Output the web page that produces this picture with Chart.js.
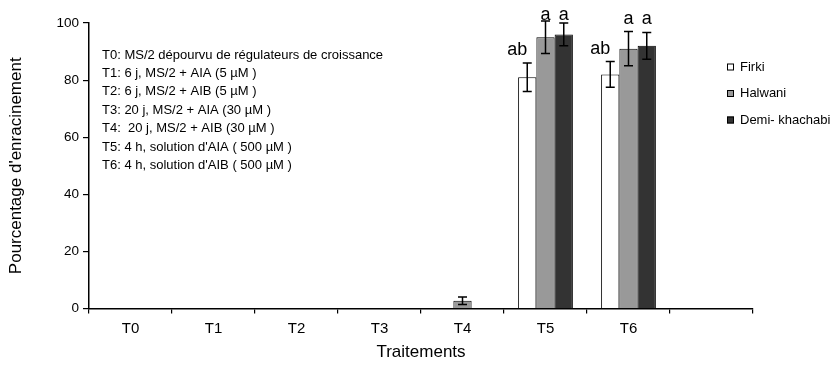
<!DOCTYPE html>
<html>
<head>
<meta charset="utf-8">
<script src="https://cdn.jsdelivr.net/npm/chart.js@4"></script>
<style>
  html, body { margin: 0; padding: 0; background: #fff; }
  #wrap { width: 835px; height: 367px; }
</style>
</head>
<body>
<div id="wrap"><canvas id="chart" width="835" height="367"></canvas></div>
<script>
// categories (last one is the empty slot on the right of the axis)
var labels = ["T0", "T1", "T2", "T3", "T4", "T5", "T6", ""];
var seriesNames = ["Firki", "Halwani", "Demi- khachabi"];

// pourcentage d'enracinement
var firki = [0, 0, 0, 0, 0, 81, 82, null];
var halwani = [0, 0, 0, 0, 2.7, 95, 91, null];
var demi = [0, 0, 0, 0, 0, 96, 92, null];

// erreurs standard
var firkiErr = [0, 0, 0, 0, 0, 5, 4.5, 0];
var halwaniErr = [0, 0, 0, 0, 1.3, 5.7, 6, 0];
var demiErr = [0, 0, 0, 0, 0, 4, 4.7, 0];

// lettres de significativité
var firkiLetters = ["", "", "", "", "", "ab", "ab", ""];
var halwaniLetters = ["", "", "", "", "", "a", "a", ""];
var demiLetters = ["", "", "", "", "", "a", "a", ""];

var notes = [
  "T0: MS/2 dépourvu de régulateurs de croissance",
  "T1: 6 j, MS/2 + AIA (5 µM )",
  "T2: 6 j, MS/2 + AIB (5 µM )",
  "T3: 20 j, MS/2 + AIA (30 µM )",
  "T4:  20 j, MS/2 + AIB (30 µM )",
  "T5: 4 h, solution d'AIA ( 500 µM )",
  "T6: 4 h, solution d'AIB ( 500 µM )"
];

var FONT = "'Liberation Sans', Arial, sans-serif";

var errorBars = {
  id: "errorBars",
  afterDatasetsDraw(chart) {
    var ctx = chart.ctx;
    var y = chart.scales.y;
    ctx.save();
    ctx.strokeStyle = "#000";
    ctx.lineWidth = 1.5;
    ctx.fillStyle = "#000";
    ctx.font = "18px " + FONT;
    ctx.textAlign = "center";
    ctx.textBaseline = "alphabetic";
    chart.data.datasets.forEach(function (ds, i) {
      var meta = chart.getDatasetMeta(i);
      meta.data.forEach(function (bar, j) {
        var v = ds.data[j];
        if (v == null) return;
        var e = ds.err[j] || 0;
        var top = y.getPixelForValue(v + e);
        if (e > 0) {
          var bot = y.getPixelForValue(v - e);
          ctx.beginPath();
          ctx.moveTo(bar.x, top);
          ctx.lineTo(bar.x, bot);
          ctx.moveTo(bar.x - 4.5, top);
          ctx.lineTo(bar.x + 4.5, top);
          ctx.moveTo(bar.x - 4.5, bot);
          ctx.lineTo(bar.x + 4.5, bot);
          ctx.stroke();
        }
        var letter = ds.letters[j];
        if (letter) {
          ctx.fillText(letter, bar.x + (ds.letterDx || 0), Math.max(top - 8, 20));
        }
      });
    });
    ctx.restore();
  }
};

var extras = {
  id: "extras",
  afterDraw(chart) {
    var ctx = chart.ctx;
    ctx.save();
    // notes
    ctx.fillStyle = "#000";
    ctx.font = "13px " + FONT;
    ctx.textAlign = "left";
    ctx.textBaseline = "middle";
    notes.forEach(function (t, i) {
      ctx.fillText(t, 102, 55 + i * 18.4);
    });
    // legend
    ctx.font = "13px " + FONT;
    chart.data.datasets.forEach(function (ds, i) {
      var cy = 67 + i * 26.5;
      ctx.fillStyle = ds.backgroundColor;
      ctx.fillRect(727, cy - 3.5, 7, 7);
      ctx.strokeStyle = "#000";
      ctx.lineWidth = 1;
      ctx.strokeRect(727.5, cy - 3, 6, 6);
      ctx.fillStyle = "#000";
      ctx.fillText(ds.label, 740, cy);
    });
    ctx.restore();
  }
};

var ctx = document.getElementById("chart");
var myChart = new Chart(ctx, {
  type: "bar",
  data: {
    labels: labels,
    datasets: [
      { label: seriesNames[0], data: firki, err: firkiErr, letters: firkiLetters, letterDx: -10, backgroundColor: "#ffffff", borderColor: "#000", borderWidth: 1 },
      { label: seriesNames[1], data: halwani, err: halwaniErr, letters: halwaniLetters, backgroundColor: "#999999", borderColor: "#000", borderWidth: 1 },
      { label: seriesNames[2], data: demi, err: demiErr, letters: demiLetters, backgroundColor: "#333333", borderColor: "#000", borderWidth: 1 }
    ]
  },
  options: {
    responsive: false,
    animation: false,
    layout: { padding: { top: 23, right: 82, left: 0, bottom: 0 } },
    datasets: { bar: { categoryPercentage: 0.66, barPercentage: 1 } },
    plugins: { legend: { display: false }, tooltip: { enabled: false } },
    scales: {
      x: {
        grid: { display: true, drawOnChartArea: false, drawTicks: true, tickLength: 5, color: "#000", lineWidth: 1.2, offset: true },
        border: { display: true, color: "#000", width: 1.5 },
        ticks: { color: "#000", font: { family: FONT, size: 15 }, padding: 6, maxRotation: 0 },
        title: { display: true, text: "Traitements", color: "#000", font: { family: FONT, size: 17 }, padding: { top: 0 } },
        afterFit(scale) { scale.height = 58.5; }
      },
      y: {
        min: 0, max: 100,
        ticks: { stepSize: 20, color: "#000", font: { family: FONT, size: 13.5 }, padding: 4 },
        grid: { display: true, drawOnChartArea: false, drawTicks: true, tickLength: 6, color: "#000", lineWidth: 1.2 },
        border: { display: true, color: "#000", width: 1.5 },
        title: { display: true, text: "Pourcentage d'enracinement", color: "#000", font: { family: FONT, size: 17 }, padding: { top: 6, bottom: 0 } },
        afterFit(scale) { scale.width = 89; }
      }
    }
  },
  plugins: [errorBars, extras]
});
</script>
</body>
</html>
